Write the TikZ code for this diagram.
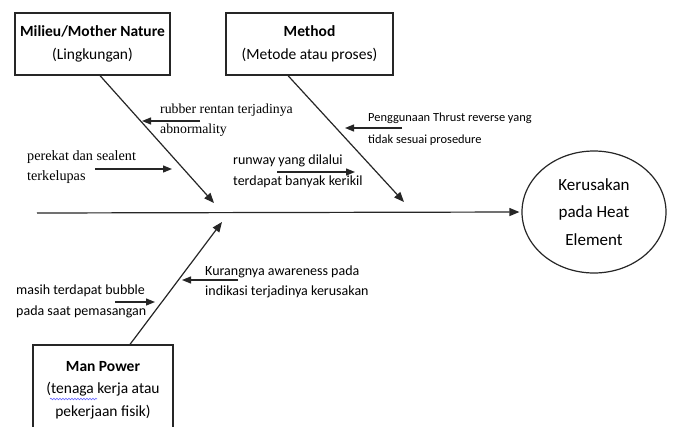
\documentclass[tikz,border=0pt]{standalone}
\usepackage{fontspec}
\setmainfont{Carlito}
\newfontfamily\serifface{Liberation Serif}
\usetikzlibrary{arrows.meta,shapes.geometric,decorations.pathmorphing}
\begin{document}
\begin{tikzpicture}[x=1pt,y=-1pt,
 line/.style={line width=1.2pt, draw=black!85},
 arr/.style={line, -{Triangle[length=10pt,width=8pt]}},
 sarr/.style={line, -{Triangle[length=9pt,width=7pt]}},
 catbox/.style={draw=black!85, line width=1.2pt, rectangle, inner sep=0pt, align=center, font=\fontsize{15.5}{23.5}\selectfont},
 lbl/.style={inner sep=0pt, align=left, anchor=west, font=\fontsize{14}{20.5}\selectfont},
 slbl/.style={lbl, font=\serifface\fontsize{13.8}{20}\selectfont},
 goalst/.style={draw=black!85, line width=1.2pt, ellipse, inner sep=0pt, minimum width=144pt, minimum height=122pt, align=center, font=\fontsize{17}{27.5}\selectfont},
]
\useasboundingbox (0,0) rectangle (675,426);
\fill[white] (0,0) rectangle (675,426);

% category boxes
\node[catbox, minimum width=155pt, minimum height=62pt] (milieu) at (92.5,44) {\textbf{Milieu/Mother Nature}\\(Lingkungan)};
\node[catbox, minimum width=167pt, minimum height=62pt] (method) at (309.5,44) {\textbf{Method}\\(Metode atau proses)};
\node[catbox, minimum width=140pt, minimum height=90pt, font=\fontsize{15.5}{22.5}\selectfont] (man) at (103,390) {\textbf{Man Power}\\(tenaga kerja atau\\pekerjaan fisik)};
\draw[blue!60, line width=0.6pt, decorate, decoration={snake, amplitude=0.8pt, segment length=3pt}] (50,399) -- (97,399);

% effect
\node[goalst] (goal) at (594,212) {Kerusakan\\pada Heat\\Element};

% spine
\coordinate (spine0) at (37,213);
\draw[arr, shorten >=2pt] (spine0) -- (goal.west);

% bones
\coordinate (mtip) at (214,203);
\coordinate (metip) at (404,202);
\coordinate (mptip) at (222,222);
\draw[arr] ([xshift=7.5pt]milieu.south) -- (mtip);
\draw[arr] ([xshift=-21.5pt]method.south) -- (metip);
\draw[arr] ([xshift=27pt]man.north) -- (mptip);

% labels
\node[slbl] (l1) at (160,120) {rubber rentan terjadinya\\abnormality};
\node[slbl, font=\serifface\fontsize{14.2}{20}\selectfont] (l2) at (27,167) {perekat dan sealent\\terkelupas};
\node[lbl] (l3) at (233,171.5) {runway yang dilalui\\terdapat banyak kerikil};
\node[lbl, font=\fontsize{12.4}{22}\selectfont] (l4) at (368,129) {Penggunaan Thrust reverse yang\\tidak sesuai prosedure};
\node[lbl] (l5) at (205,282) {Kurangnya awareness pada\\indikasi terjadinya kerusakan};
\node[lbl] (l6) at (16,301.5) {masih terdapat bubble\\pada saat pemasangan};

% label arrows
\coordinate (a1s) at (200,121); \coordinate (a1e) at (142,121);
\coordinate (a2s) at (95,169);  \coordinate (a2e) at (172,169);
\coordinate (a3s) at (277,172); \coordinate (a3e) at (355,172);
\coordinate (a4s) at (402,128); \coordinate (a4e) at (345,128);
\coordinate (a5s) at (238,280); \coordinate (a5e) at (182,280);
\coordinate (a6s) at (115,302); \coordinate (a6e) at (155,302);
\draw[sarr] (a1s) -- (a1e);
\draw[sarr] (a2s) -- (a2e);
\draw[sarr] (a3s) -- (a3e);
\draw[sarr] (a4s) -- (a4e);
\draw[sarr] (a5s) -- (a5e);
\draw[sarr] (a6s) -- (a6e);
\end{tikzpicture}
\end{document}
